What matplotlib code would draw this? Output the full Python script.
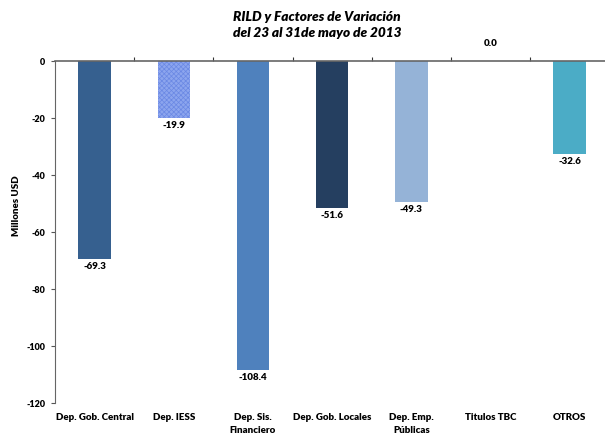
import matplotlib.pyplot as plt
import matplotlib as mpl

categories = ['Dep. Gob. Central', 'Dep. IESS', 'Dep. Sis.\nFinanciero', 'Dep. Gob. Locales',
              'Dep. Emp.\nPúblicas', 'Titulos TBC', 'OTROS']
values = [-69.3, -19.9, -108.4, -51.6, -49.3, 0.0, -32.6]
colors = ['#36608F', '#8CA5EE', '#4F81BD', '#253F60', '#95B3D7', '#4F81BD', '#4BACC6']
yticks = [0, -20, -40, -60, -80, -100, -120]

plt.rcParams['font.family'] = ['Lato', 'DejaVu Sans']
mpl.rcParams['hatch.linewidth'] = 0.5

fig = plt.figure(figsize=(6.05, 4.37), dpi=100)
ax = fig.add_axes([0.091, 0.0778, 0.916, 0.7826])
x = list(range(len(values)))
bars = ax.bar(x, values, width=0.41, color=colors, edgecolor='none', zorder=2)
bars[1].set_hatch('xxxxxxx')
bars[1].set_edgecolor('#6A88E4')
bars[1].set_linewidth(0)

for i, v in enumerate(values):
    if v < 0:
        ax.text(i, v - 1.2, f'{v:.1f}', ha='center', va='top', fontsize=7, fontweight='heavy')
    else:
        ax.text(i, v + 4.5, f'{v:.1f}', ha='center', va='bottom', fontsize=7, fontweight='heavy')

ax.set_xlim(-0.5, len(values) - 0.5)
ax.set_ylim(-120, 0)
ax.set_yticks(yticks)
ax.set_yticklabels([str(t) for t in yticks], fontsize=6.5, fontweight='heavy')
ax.tick_params(axis='y', length=3, color='#555555', pad=4)

ax.spines['right'].set_visible(False)
ax.spines['bottom'].set_visible(False)
ax.spines['top'].set_color('#666666')
ax.spines['top'].set_linewidth(1.2)
ax.spines['left'].set_color('#666666')
ax.set_xticks([i + 0.5 for i in range(len(values))])
ax.set_xticklabels([])
ax.tick_params(axis='x', top=True, bottom=False, direction='out', length=3, color='#333333')
ax.xaxis.set_ticks_position('top')

for i, c in enumerate(categories):
    ax.text(i, -123.5, c, ha='center', va='top', fontsize=7, fontweight='heavy', linespacing=1.6)

fig.text(0.028, 0.53, 'Millones USD', rotation=90, ha='center', va='center',
         fontsize=7, fontweight='heavy')
fig.text(0.524, 0.975, 'RILD y Factores de Variación\ndel 23 al 31de mayo de 2013',
         ha='center', va='top', fontsize=9.8, fontweight='heavy', style='italic', linespacing=1.4)

fig.savefig('out.png', dpi=100)
